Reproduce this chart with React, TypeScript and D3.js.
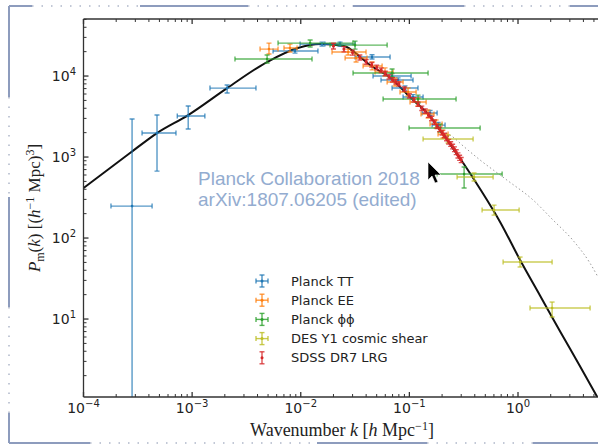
import React from 'react';
import * as d3 from 'd3';

type Pt = { k: number; p: number; kLo: number; kHi: number; pLo: number; pHi: number };

const W = 598;
const H = 444;

// Linear-theory matter power spectrum, k in h/Mpc, P in (Mpc/h)^3
const curveK = [1e-4, 2.68e-4, 4.75e-4, 9.2e-4, 2.1e-3, 4.9e-3, 9.4e-3, 0.0151, 0.025, 0.0352, 0.041, 0.0708, 0.101, 0.146, 0.222, 0.313, 0.448, 0.684, 1.045, 1.598, 2.443, 3.733, 5.45];
const curveP = [414, 1120, 1977, 3300, 7100, 14900, 22200, 24800, 23500, 17200, 14500, 8900, 5500, 3490, 1622, 843, 403, 158, 53.5, 19.4, 7.0, 2.6, 1.05];

// Non-linear (halofit) spectrum, dotted
const halofitK = [0.1, 0.15, 0.2, 0.252, 0.313, 0.448, 0.79, 1.38, 2.1, 3.2, 4.6, 5.45];
const halofitP = [5600, 3550, 2150, 1766, 1368, 918, 520, 294, 167, 94, 49, 33];

const planckTT: Pt[] = [
  { k: 2.8e-4, p: 248, kLo: 1.79e-4, kHi: 4.28e-4, pLo: 0.5, pHi: 2950 },
  { k: 4.75e-4, p: 1980, kLo: 3.46e-4, kHi: 7.1e-4, pLo: 670, pHi: 3300 },
  { k: 9.2e-4, p: 3210, kLo: 7.3e-4, kHi: 1.31e-3, pLo: 2220, pHi: 4260 },
  { k: 2.1e-3, p: 7100, kLo: 1.46e-3, kHi: 3.87e-3, pLo: 6170, pHi: 7740 },
  { k: 0.00885, p: 20400, kLo: 0.00556, kHi: 0.0144, pLo: 19200, pHi: 21500 },
  { k: 0.0157, p: 24800, kLo: 0.00986, kHi: 0.023, pLo: 23500, pHi: 26200 },
  { k: 0.023, p: 24800, kLo: 0.0167, kHi: 0.0316, pLo: 23500, pHi: 26200 },
  { k: 0.0453, p: 17200, kLo: 0.0316, kHi: 0.0664, pLo: 16200, pHi: 18300 },
  { k: 0.0693, p: 10000, kLo: 0.0463, kHi: 0.1037, pLo: 9400, pHi: 10700 },
  { k: 0.0787, p: 8930, kLo: 0.0548, kHi: 0.108, pLo: 8400, pHi: 9500 },
  { k: 0.0912, p: 7110, kLo: 0.0693, kHi: 0.12, pLo: 6700, pHi: 7550 },
  { k: 0.108, p: 5510, kLo: 0.0875, kHi: 0.1337, pLo: 5150, pHi: 5900 },
  { k: 0.155, p: 3490, kLo: 0.131, kHi: 0.18, pLo: 3250, pHi: 3750 },
  { k: 0.184, p: 2480, kLo: 0.162, kHi: 0.213, pLo: 2300, pHi: 2680 },
];

const planckEE: Pt[] = [
  { k: 0.0051, p: 21500, kLo: 0.00422, kHi: 0.00618, pLo: 18700, pHi: 25500 },
  { k: 0.00796, p: 22200, kLo: 0.00701, kHi: 0.00925, pLo: 19800, pHi: 24800 },
  { k: 0.0273, p: 19800, kLo: 0.0194, kHi: 0.0399, pLo: 18200, pHi: 21500 },
  { k: 0.0323, p: 16700, kLo: 0.0256, kHi: 0.0407, pLo: 14900, pHi: 18700 },
  { k: 0.0454, p: 13300, kLo: 0.0375, kHi: 0.0561, pLo: 11900, pHi: 14900 },
  { k: 0.0597, p: 11200, kLo: 0.0483, kHi: 0.0708, pLo: 10000, pHi: 12600 },
  { k: 0.0738, p: 8430, kLo: 0.0624, kHi: 0.0875, pLo: 7530, pHi: 9450 },
  { k: 0.0973, p: 6340, kLo: 0.082, kHi: 0.1153, pLo: 5660, pHi: 7110 },
  { k: 0.1202, p: 4780, kLo: 0.1014, kHi: 0.1426, pLo: 4260, pHi: 5350 },
  { k: 0.1486, p: 3400, kLo: 0.128, kHi: 0.1686, pLo: 3030, pHi: 3800 },
  { k: 0.176, p: 2550, kLo: 0.155, kHi: 0.2, pLo: 2280, pHi: 2860 },
  { k: 0.204, p: 1920, kLo: 0.1837, kHi: 0.227, pLo: 1720, pHi: 2150 },
];

const planckPhiPhi: Pt[] = [
  { k: 0.0049, p: 16200, kLo: 0.00248, kHi: 0.0127, pLo: 14500, pHi: 18200 },
  { k: 0.0122, p: 25500, kLo: 0.00618, kHi: 0.0303, pLo: 22800, pHi: 27800 },
  { k: 0.0316, p: 24100, kLo: 0.0186, kHi: 0.0624, pLo: 21500, pHi: 27000 },
  { k: 0.0693, p: 10900, kLo: 0.0303, kHi: 0.1486, pLo: 9720, pHi: 12200 },
  { k: 0.1202, p: 5200, kLo: 0.0573, kHi: 0.269, pLo: 4640, pHi: 5820 },
  { k: 0.192, p: 2280, kLo: 0.0993, kHi: 0.448, pLo: 2040, pHi: 2550 },
  { k: 0.319, p: 617, kLo: 0.18, kHi: 0.714, pLo: 414, pHi: 754 },
];

const desY1: Pt[] = [
  { k: 0.227, p: 1670, kLo: 0.1337, kHi: 0.386, pLo: 1490, pHi: 1870 },
  { k: 0.394, p: 566, kLo: 0.275, kHi: 0.59, pLo: 505, pHi: 634 },
  { k: 0.602, p: 222, kLo: 0.467, kHi: 1.024, pLo: 192, pHi: 255 },
  { k: 1.045, p: 50.5, kLo: 0.729, kHi: 2.06, pLo: 43.9, pHi: 58.2 },
  { k: 2.06, p: 13.7, kLo: 1.29, kHi: 4.61, pLo: 10.6, pHi: 16.2 },
];

// SDSS DR7 LRG band powers (no horizontal errors)
const sdssK = [0.02, 0.025, 0.03, 0.035, 0.04, 0.045, 0.05, 0.055, 0.06, 0.065, 0.07, 0.075, 0.08, 0.09, 0.1, 0.11, 0.12, 0.13, 0.14, 0.15, 0.16, 0.17, 0.18, 0.19, 0.2, 0.21, 0.22, 0.23, 0.24, 0.25, 0.26, 0.27, 0.28, 0.29, 0.3];
const sdssP = [23500, 21500, 19500, 17000, 15000, 13800, 12800, 11800, 10800, 9800, 9000, 8500, 8000, 6900, 5700, 5100, 4500, 4000, 3700, 3300, 3000, 2700, 2400, 2200, 2000, 1850, 1700, 1550, 1450, 1350, 1250, 1150, 1050, 980, 920];
const sdssErr = [1900, 1600, 1400, 1200, 1000, 900, 820, 750, 680, 610, 560, 520, 480, 420, 350, 310, 280, 250, 230, 210, 190, 170, 150, 140, 130, 120, 110, 100, 95, 90, 85, 80, 75, 70, 66];

const xTickExps = [-4, -3, -2, -1, 0];
const yTickExps = [1, 2, 3, 4];

const C_TT = '#1f77b4';
const C_EE = '#ff7f0e';
const C_PP = '#2ca02c';
const C_DES = '#bcbd22';
const C_SDSS = '#d62728';

const legendItems = [
  { label: 'Planck TT', color: C_TT, cross: true },
  { label: 'Planck EE', color: C_EE, cross: true },
  { label: 'Planck ϕϕ', color: C_PP, cross: true },
  { label: 'DES Y1 cosmic shear', color: C_DES, cross: true },
  { label: 'SDSS DR7 LRG', color: C_SDSS, cross: false },
];

const L = 83.5, R = 598, T = 19, B = 397;

export default function App() {
  const x = d3.scaleLog().domain([1e-4, 5.45]).range([L, R]);
  const y = d3.scaleLog().domain([1.09, 50600]).range([B, T]);

  const line = d3
    .line<[number, number]>()
    .x((d) => x(d[0]))
    .y((d) => y(d[1]))
    .curve(d3.curveMonotoneX);

  const linPath = line(curveK.map((k, i) => [k, curveP[i]]) as [number, number][]) || '';
  const nlPath = line(halofitK.map((k, i) => [k, halofitP[i]]) as [number, number][]) || '';

  const minorX: number[] = [];
  for (let e = -4; e <= 0; e++) for (let m = 2; m <= 9; m++) {
    const v = m * Math.pow(10, e);
    if (v <= 5.45) minorX.push(v);
  }
  const minorY: number[] = [];
  for (let e = 0; e <= 4; e++) for (let m = 2; m <= 9; m++) {
    const v = m * Math.pow(10, e);
    if (v >= 1.09 && v <= 50600) minorY.push(v);
  }

  const cap = 2.5;
  const errorBars = (pts: Pt[], color: string, key: string) =>
    pts.map((d, i) => {
      const cx = x(d.k), cy = y(d.p);
      const x0 = x(d.kLo), x1 = x(d.kHi);
      const y0 = y(d.pLo), y1 = y(d.pHi);
      return (
        <g key={key + i} stroke={color} strokeWidth={1.4} strokeOpacity={0.75} fill="none">
          <line x1={x0} x2={x1} y1={cy} y2={cy} />
          <line x1={x0} x2={x0} y1={cy - cap} y2={cy + cap} />
          <line x1={x1} x2={x1} y1={cy - cap} y2={cy + cap} />
          <line x1={cx} x2={cx} y1={y0} y2={y1} />
          <line x1={cx - cap} x2={cx + cap} y1={y0} y2={y0} />
          <line x1={cx - cap} x2={cx + cap} y1={y1} y2={y1} />
          <circle cx={cx} cy={cy} r={1.3} fill={color} stroke="none" />
        </g>
      );
    });

  const sdssBars = sdssK.map((k, i) => {
    const cx = x(k), cy = y(sdssP[i]);
    const y0 = y(sdssP[i] - sdssErr[i]), y1 = y(sdssP[i] + sdssErr[i]);
    return (
      <g key={'s' + i} stroke={C_SDSS} strokeWidth={1.4} strokeOpacity={0.8}>
        <line x1={cx} x2={cx} y1={y0} y2={y1} />
        <line x1={cx - cap} x2={cx + cap} y1={y0} y2={y0} />
        <line x1={cx - cap} x2={cx + cap} y1={y1} y2={y1} />
        <circle cx={cx} cy={cy} r={1.6} fill={C_SDSS} stroke="none" />
      </g>
    );
  });

  const frame = '#8d9cbd';
  const dots = '#c2c8d6';

  return (
    <svg width={W} height={H} style={{ position: 'absolute', left: 0, top: 0, background: '#fff' }}>
      <rect width={W} height={H} fill="#fff" />
      <defs>
        <clipPath id="plotArea">
          <rect x={L} y={T} width={R - L} height={B - T} />
        </clipPath>
      </defs>

      {/* selection frame */}
      <g strokeWidth={2} fill="none">
        <g stroke={frame}>
          <line x1={9} x2={32} y1={6} y2={6} />
          <line x1={140} x2={248} y1={6} y2={6} />
          <line x1={353} x2={464} y1={6} y2={6} />
          <line x1={570} x2={598} y1={6} y2={6} />
          <line x1={9} x2={9} y1={6} y2={97} />
          <line x1={9} x2={9} y1={197} y2={307} />
          <line x1={9} x2={9} y1={413} y2={443} />
          <line x1={9} x2={90} y1={443} y2={443} />
          <line x1={317} x2={427} y1={443} y2={443} />
          <line x1={533} x2={598} y1={443} y2={443} />
        </g>
        <g stroke={dots} strokeDasharray="1.5 8">
          <line x1={32} x2={140} y1={6} y2={6} />
          <line x1={248} x2={353} y1={6} y2={6} />
          <line x1={464} x2={570} y1={6} y2={6} />
          <line x1={9} x2={9} y1={97} y2={197} />
          <line x1={9} x2={9} y1={307} y2={413} />
          <line x1={90} x2={317} y1={443} y2={443} />
          <line x1={427} x2={533} y1={443} y2={443} />
        </g>
      </g>

      <g clipPath="url(#plotArea)">
        <path d={nlPath} fill="none" stroke="#999" strokeWidth={1} strokeDasharray="1.5 2.5" />
        <path d={linPath} fill="none" stroke="#111" strokeWidth={2} />
        {errorBars(planckTT, C_TT, 'tt')}
        {errorBars(planckEE, C_EE, 'ee')}
        {errorBars(planckPhiPhi, C_PP, 'pp')}
        {errorBars(desY1, C_DES, 'des')}
        {sdssBars}
      </g>

      {/* axes */}
      <g stroke="#333" strokeWidth={1.3} fill="none">
        <line x1={L} x2={R} y1={B} y2={B} />
        <line x1={L} x2={R} y1={T} y2={T} />
        <line x1={L} x2={L} y1={T} y2={B} />
        {xTickExps.map((e) => {
          const px = x(Math.pow(10, e));
          return (
            <g key={'xt' + e}>
              <line x1={px} x2={px} y1={B} y2={B - 5} />
              <line x1={px} x2={px} y1={T} y2={T + 5} />
            </g>
          );
        })}
        {minorX.map((v, i) => {
          const px = x(v);
          return (
            <g key={'xm' + i} strokeWidth={1}>
              <line x1={px} x2={px} y1={B} y2={B - 3} />
              <line x1={px} x2={px} y1={T} y2={T + 3} />
            </g>
          );
        })}
        {yTickExps.map((e) => {
          const py = y(Math.pow(10, e));
          return <line key={'yt' + e} x1={L} x2={L + 5} y1={py} y2={py} />;
        })}
        {minorY.map((v, i) => {
          const py = y(v);
          return <line key={'ym' + i} x1={L} x2={L + 3} y1={py} y2={py} strokeWidth={1} />;
        })}
      </g>

      <g fontFamily="DejaVu Sans" fontSize={14} fill="#222">
        {xTickExps.map((e) => (
          <text key={'xl' + e} x={x(Math.pow(10, e))} y={413} textAnchor="middle">
            10<tspan dy={-6} fontSize={10}>{e === 0 ? '0' : '−' + -e}</tspan>
          </text>
        ))}
        {yTickExps.map((e) => (
          <text key={'yl' + e} x={76} y={y(Math.pow(10, e)) + 5} textAnchor="end">
            10<tspan dy={-6} fontSize={10}>{String(e)}</tspan>
          </text>
        ))}
      </g>

      {/* axis titles */}
      <text x={342} y={436} textAnchor="middle" fontFamily="Liberation Serif" fontSize={18} fill="#222">
        Wavenumber <tspan fontStyle="italic">k</tspan>{'  '}[<tspan fontStyle="italic">h</tspan> Mpc
        <tspan dy={-6} fontSize={12}>−1</tspan>
        <tspan dy={6}>]</tspan>
      </text>
      <text
        transform={`translate(40,${(T + B) / 2}) rotate(-90)`}
        textAnchor="middle"
        fontFamily="Liberation Serif"
        fontSize={17}
        fill="#222"
      >
        <tspan fontStyle="italic">P</tspan>
        <tspan dy={4} fontSize={12}>m</tspan>
        <tspan dy={-4}>(</tspan>
        <tspan fontStyle="italic">k</tspan>)  [(<tspan fontStyle="italic">h</tspan>
        <tspan dy={-6} fontSize={12}>−1</tspan>
        <tspan dy={6}> Mpc)</tspan>
        <tspan dy={-6} fontSize={12}>3</tspan>
        <tspan dy={6}>]</tspan>
      </text>

      {/* annotation */}
      <g fontFamily="Liberation Sans" fontSize={19} fill="#93acd0">
        <text x={198} y={185}>Planck Collaboration 2018</text>
        <text x={198} y={206}>arXiv:1807.06205 (edited)</text>
      </g>

      {/* legend */}
      <g>
        {legendItems.map((it, i) => {
          const ly = 281 + i * 19.2;
          const lx = 262;
          return (
            <g key={'lg' + i}>
              <g stroke={it.color} strokeWidth={1.4} strokeOpacity={0.8}>
                {it.cross && <line x1={lx - 6} x2={lx + 6} y1={ly} y2={ly} />}
                {it.cross && <line x1={lx - 6} x2={lx - 6} y1={ly - 2.5} y2={ly + 2.5} />}
                {it.cross && <line x1={lx + 6} x2={lx + 6} y1={ly - 2.5} y2={ly + 2.5} />}
                <line x1={lx} x2={lx} y1={ly - 6} y2={ly + 6} />
                <line x1={lx - 2.5} x2={lx + 2.5} y1={ly - 6} y2={ly - 6} />
                <line x1={lx - 2.5} x2={lx + 2.5} y1={ly + 6} y2={ly + 6} />
              </g>
              <circle cx={lx} cy={ly} r={1.5} fill={it.color} />
              <text x={291} y={ly + 4.5} fontFamily="DejaVu Sans" fontSize={13} fill="#222">
                {it.label}
              </text>
            </g>
          );
        })}
      </g>

      {/* pointer */}
      <path d="M428,162 L428,180 L432,176 L435,183 L438,182 L435,175 L441,175 Z" fill="#000" stroke="#fff" strokeWidth={0.6} />
    </svg>
  );
}
